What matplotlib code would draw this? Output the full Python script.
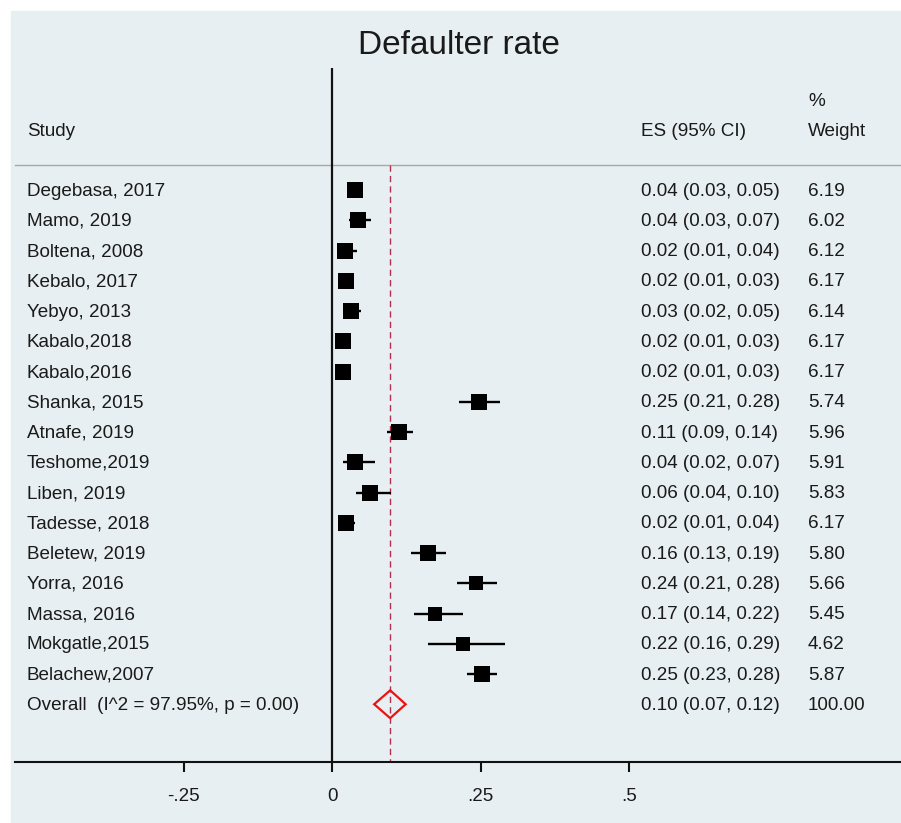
import matplotlib
matplotlib.use("Agg")
import matplotlib.pyplot as plt
from matplotlib.patches import Rectangle, Polygon

plt.rcParams['font.family'] = ['Liberation Sans', 'DejaVu Sans']

studies = ["Degebasa, 2017", "Mamo, 2019", "Boltena, 2008", "Kebalo, 2017",
           "Yebyo, 2013", "Kabalo,2018", "Kabalo,2016", "Shanka, 2015",
           "Atnafe, 2019", "Teshome,2019", "Liben, 2019", "Tadesse, 2018",
           "Beletew, 2019", "Yorra, 2016", "Massa, 2016", "Mokgatle,2015",
           "Belachew,2007"]
es = [0.039, 0.044, 0.022, 0.024, 0.032, 0.018, 0.018, 0.247, 0.113, 0.039,
      0.064, 0.024, 0.162, 0.242, 0.174, 0.221, 0.253]
lo = [0.029, 0.028, 0.012, 0.014, 0.022, 0.011, 0.011, 0.214, 0.093, 0.019,
      0.040, 0.014, 0.133, 0.210, 0.138, 0.162, 0.228]
hi = [0.052, 0.066, 0.042, 0.031, 0.048, 0.028, 0.029, 0.283, 0.136, 0.072,
      0.099, 0.038, 0.192, 0.278, 0.221, 0.291, 0.278]
weights = [6.19, 6.02, 6.12, 6.17, 6.14, 6.17, 6.17, 5.74, 5.96, 5.91, 5.83,
           6.17, 5.80, 5.66, 5.45, 4.62, 5.87]
overall_label = "Overall  (I^2 = 97.95%, p = 0.00)"
overall_es, overall_lo, overall_hi = 0.098, 0.071, 0.124
overall_weight = 100.00
xticks = [-0.25, 0, 0.25, 0.5]
xticklabels = ["-.25", "0", ".25", ".5"]
title = "Defaulter rate"

W, H = 901, 823
bg = '#e8eff2'
txt = '#1a1a1a'

fig = plt.figure(figsize=(W / 100, H / 100), dpi=100)
fig.patch.set_facecolor('white')
fig.add_artist(Rectangle((11 / W, 0), (W - 11) / W, (H - 11) / H,
                         transform=fig.transFigure, color=bg, zorder=0))

# axes geometry in pixels
ax_left, ax_right, ax_top, ax_bot = 15, 901, 68, 762
ax = fig.add_axes([ax_left / W, (H - ax_bot) / H, (ax_right - ax_left) / W,
                   (ax_bot - ax_top) / H])
ax.set_facecolor('none')

px0, ppu = 332, 594.0  # pixel of x=0 and pixels per unit
def xd(px):
    return (px - px0) / ppu

row0, rstep = 190, 30.25
def yd(py):
    return (py - row0) / rstep

ax.set_xlim(xd(ax_left), xd(ax_right))
ax.set_ylim(yd(ax_bot), yd(ax_top))

for s in ['top', 'right', 'left']:
    ax.spines[s].set_visible(False)
ax.spines['bottom'].set_linewidth(1.5)
ax.spines['bottom'].set_color('#111111')
ax.set_yticks([])
ax.set_xticks(xticks)
ax.set_xticklabels(xticklabels, fontsize=13.5, color=txt)
ax.tick_params(axis='x', length=7.5, width=1.5, color='#111111', pad=11)

# vertical null line
ax.axvline(0, color='#111111', lw=1.6, zorder=2)
# header separator
ax.plot([xd(ax_left), xd(ax_right)], [yd(165)] * 2, color='#a8a8a8', lw=1.0,
        zorder=1, clip_on=False)
# overall dashed line
ax.plot([overall_es] * 2, [yd(165), yd(ax_bot)], color='#b5304a', lw=1.0,
        ls=(0, (4.5, 3)), zorder=2)

xs_study, xs_es, xs_w = xd(27), xd(641), xd(808)
fs = 13.6
ty = 0.04  # slight downward shift of text relative to marks
for i, name in enumerate(studies):
    ax.plot([lo[i], hi[i]], [i, i], color='black', lw=1.7, zorder=3,
            solid_capstyle='butt')
    ms = 11.2 * (weights[i] / 6.17) ** 0.5
    ax.plot(es[i], i, marker='s', ms=ms, mew=0, color='black', zorder=4)
    ax.text(xs_study, i + ty, name, ha='left', va='center', fontsize=fs, color=txt)
    ax.text(xs_es, i + ty, f"{es[i]:.2f} ({lo[i]:.2f}, {hi[i]:.2f})", ha='left',
            va='center', fontsize=fs, color=txt)
    ax.text(xs_w, i + ty, f"{weights[i]:.2f}", ha='left', va='center', fontsize=fs,
            color=txt)

io = len(studies)
dh = 0.46
ax.add_patch(Polygon([[overall_lo, io], [overall_es, io - dh],
                      [overall_hi, io], [overall_es, io + dh]], closed=True,
                     fill=False, edgecolor='#ee1111', lw=1.6, zorder=4))
ax.text(xs_study, io + ty, overall_label, ha='left', va='center', fontsize=fs,
        color=txt)
ax.text(xs_es, io + ty, f"{overall_es:.2f} ({overall_lo:.2f}, {overall_hi:.2f})",
        ha='left', va='center', fontsize=fs, color=txt)
ax.text(xs_w, io + ty, f"{overall_weight:.2f}", ha='left', va='center',
        fontsize=fs, color=txt)

# headers
ax.text(xs_study, yd(131), "Study", ha='left', va='center', fontsize=fs, color=txt)
ax.text(xs_es, yd(131), "ES (95% CI)", ha='left', va='center', fontsize=fs, color=txt)
ax.text(xs_w, yd(131), "Weight", ha='left', va='center', fontsize=fs, color=txt)
ax.text(xs_w, yd(101), "%", ha='left', va='center', fontsize=fs, color=txt)

fig.text(459 / W, 1 - 46 / H, title, ha='center', va='center', fontsize=24,
         color=txt)

fig.savefig('out.png', dpi=100, facecolor=fig.get_facecolor())
